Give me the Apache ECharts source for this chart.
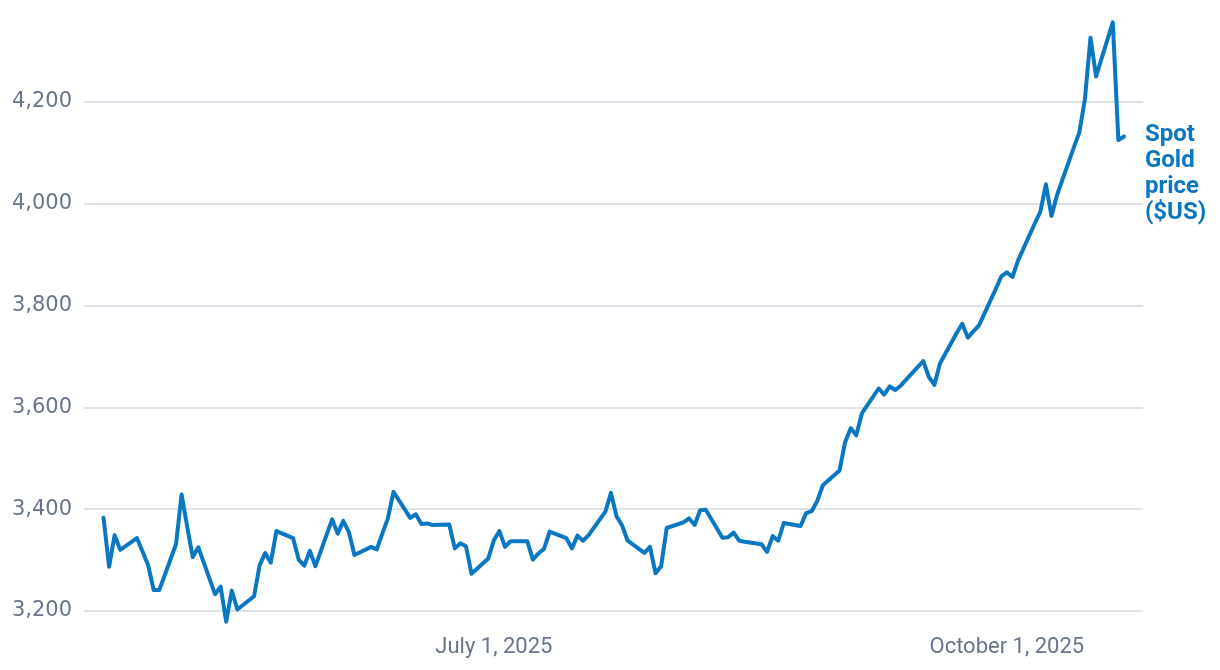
<!DOCTYPE html>
<html><head><meta charset="utf-8">
<script src="https://cdn.jsdelivr.net/npm/echarts@6/dist/echarts.min.js"></script>
<style>html,body{margin:0;padding:0;background:#fff}#c{width:1220px;height:670px}</style>
</head><body><div id="c"></div>
<script>
const dates = [
'2025-04-22','2025-04-23','2025-04-24','2025-04-25','2025-04-28','2025-04-29','2025-04-30',
'2025-05-01','2025-05-02','2025-05-05','2025-05-06','2025-05-07','2025-05-08','2025-05-09',
'2025-05-12','2025-05-13','2025-05-14','2025-05-15','2025-05-16','2025-05-19','2025-05-20',
'2025-05-21','2025-05-22','2025-05-23','2025-05-26','2025-05-27','2025-05-28','2025-05-29',
'2025-05-30','2025-06-02','2025-06-03','2025-06-04','2025-06-05','2025-06-06','2025-06-09',
'2025-06-10','2025-06-11','2025-06-12','2025-06-13','2025-06-16','2025-06-17','2025-06-18',
'2025-06-19','2025-06-20','2025-06-23','2025-06-24','2025-06-25','2025-06-26','2025-06-27',
'2025-06-30','2025-07-01','2025-07-02','2025-07-03','2025-07-04','2025-07-07','2025-07-08',
'2025-07-09','2025-07-10','2025-07-11','2025-07-14','2025-07-15','2025-07-16','2025-07-17',
'2025-07-18','2025-07-21','2025-07-22','2025-07-23','2025-07-24','2025-07-25','2025-07-28',
'2025-07-29','2025-07-30','2025-07-31','2025-08-01','2025-08-04','2025-08-05','2025-08-06',
'2025-08-07','2025-08-08','2025-08-11','2025-08-12','2025-08-13','2025-08-14','2025-08-15',
'2025-08-18','2025-08-19','2025-08-20','2025-08-21','2025-08-22','2025-08-25','2025-08-26',
'2025-08-27','2025-08-28','2025-08-29','2025-09-01','2025-09-02','2025-09-03','2025-09-04',
'2025-09-05','2025-09-08','2025-09-09','2025-09-10','2025-09-11','2025-09-12','2025-09-15',
'2025-09-16','2025-09-17','2025-09-18','2025-09-19','2025-09-22','2025-09-23','2025-09-24',
'2025-09-25','2025-09-26','2025-09-29','2025-09-30','2025-10-01','2025-10-02','2025-10-03',
'2025-10-06','2025-10-07','2025-10-08','2025-10-09','2025-10-10','2025-10-13','2025-10-14',
'2025-10-15','2025-10-16','2025-10-17','2025-10-20','2025-10-21','2025-10-22'
];
const prices = [
3383,3287,3349,3320,3343,3317,3290,
3241,3241,3331,3429,3366,3306,3325,
3233,3248,3179,3240,3203,3229,3290,
3314,3295,3357,3343,3301,3289,3318,
3288,3380,3352,3377,3355,3310,3326,
3321,3352,3382,3434,3383,3390,3371,
3372,3369,3370,3323,3333,3327,3273,
3303,3339,3357,3326,3337,3337,3301,
3313,3322,3356,3343,3323,3348,3338,
3349,3395,3432,3386,3368,3338,3314,
3326,3274,3288,3363,3374,3382,3369,
3398,3399,3344,3345,3354,3338,3336,
3331,3316,3347,3338,3373,3367,3392,
3396,3416,3447,3476,3532,3559,3545,
3588,3637,3625,3641,3634,3643,3679,
3691,3660,3644,3686,3746,3764,3737,
3749,3761,3832,3857,3865,3856,3888,
3961,3984,4038,3976,4017,4110,4140,
4205,4326,4250,4356,4125,4132
];
const yTicks = [3200,3400,3600,3800,4000,4200];
const xTickDates = ['2025-07-01','2025-10-01'];
const seriesLabel = ['Spot','Gold','price','($US)'];
const MONTHS = ['January','February','March','April','May','June','July','August','September','October','November','December'];

function ts(s){const p=s.split('-');return Date.UTC(+p[0],+p[1]-1,+p[2]);}
function fmtNum(v){return String(v).replace(/\B(?=(\d{3})+(?!\d))/g, ',');}

const AXIS_COLOR = '#66758b';
const LINE_COLOR = '#0a77c2';
const chart = echarts.init(document.getElementById('c'), null, {renderer:'canvas'});
chart.setOption({
  animation:false,
  backgroundColor:'#ffffff',
  grid:{left:84, right:77, top:0, height:611, containLabel:false},
  xAxis:{
    type:'value',
    min: Date.UTC(2025,3,18,12),
    max: Date.UTC(2025,9,25,10),
    axisLine:{show:false}, axisTick:{show:false}, splitLine:{show:false},
    axisLabel:{
      customValues: xTickDates.map(ts),
      formatter: function(v){const d=new Date(v);return MONTHS[d.getUTCMonth()]+' '+d.getUTCDate()+', '+d.getUTCFullYear();},
      color:AXIS_COLOR, fontSize:22, fontFamily:'Roboto', margin:25
    }
  },
  yAxis:{
    type:'value', min:3200, max:4400, interval:200,
    axisLine:{show:false}, axisTick:{show:false},
    axisLabel:{
      formatter: function(v){return yTicks.indexOf(v)>=0 ? fmtNum(v) : '';},
      color:AXIS_COLOR, fontSize:21, fontFamily:'DejaVu Sans', margin:12
    },
    splitLine:{lineStyle:{color:['#d3d8e3','#d3d8e3','#d3d8e3','#d3d8e3','#d3d8e3','#d3d8e3','rgba(0,0,0,0)'], width:1.5}}
  },
  series:[{
    type:'line',
    data: dates.map(function(d,i){return [ts(d), prices[i]];}),
    showSymbol:false, clip:false,
    lineStyle:{color:LINE_COLOR, width:4, cap:'round', join:'round'},
    endLabel:{
      show:true,
      formatter: seriesLabel.join('\n'),
      color:LINE_COLOR, fontWeight:'bold', fontSize:24, lineHeight:26,
      fontFamily:'Roboto',
      align:'left', verticalAlign:'middle',
      offset:[13,38]
    }
  }]
});
</script></body></html>
